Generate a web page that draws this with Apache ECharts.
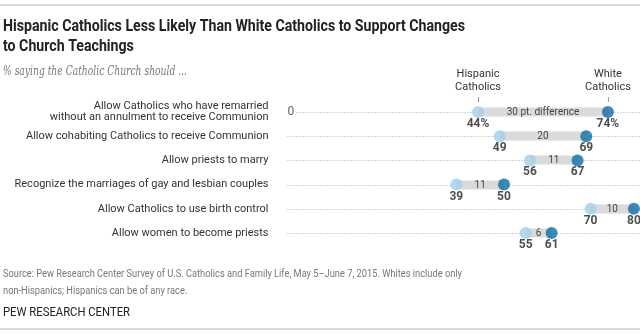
<!DOCTYPE html>
<html><head><meta charset="utf-8">
<script src="https://cdn.jsdelivr.net/npm/echarts@6/dist/echarts.min.js"></script>
<style>html,body{margin:0;padding:0;background:#fff}#c{width:640px;height:334px}</style>
</head><body><div id="c"></div>
<script>
const categories = [
  'Allow Catholics who have remarried\nwithout an annulment to receive Communion',
  'Allow cohabiting Catholics to receive Communion',
  'Allow priests to marry',
  'Recognize the marriages of gay and lesbian couples',
  'Allow Catholics to use birth control',
  'Allow women to become priests'
];
const hispanic = [44, 49, 56, 39, 70, 55];
const white = [74, 69, 67, 50, 80, 61];
const hispanicLabels = ['44%', '49', '56', '39', '70', '55'];
const whiteLabels = ['74%', '69', '67', '50', '80', '61'];
const diffLabels = ['30 pt. difference', '20', '11', '11', '10', '6'];
const seriesNames = ['Hispanic\nCatholics', 'White\nCatholics'];

const cv = document.createElement('canvas').getContext('2d');
function fit(text, font, w) { cv.font = font; return w / cv.measureText(text).width; }

const FONT = 'Roboto';
const titleFont = 'bold 17px ' + FONT;
const t1 = 'Hispanic Catholics Less Likely Than White Catholics to Support Changes';
const titleScale = fit(t1, titleFont, 462);
const subFont = 'italic 13px "DejaVu Serif"';
const sub = '% saying the Catholic Church should ...';
const subScale = fit(sub, subFont, 184);
const srcFont = '11px ' + FONT;
const s1 = 'Source: Pew Research Center Survey of U.S. Catholics and Family Life, May 5\u2013June 7, 2015. Whites include only';
const srcScale = fit(s1, srcFont, 459);
const pewFont = '12px ' + FONT;
const pew = 'PEW RESEARCH CENTER';
const pewScale = fit(pew, pewFont, 127);

const chart = echarts.init(document.getElementById('c'), null, {renderer: 'canvas'});
chart.setOption({
  animation: false,
  grid: {left: 287.5, right: 6.1, top: 100, height: 145},
  xAxis: {type: 'value', min: 0, max: 80, show: false},
  yAxis: {
    type: 'category', inverse: true, data: categories,
    axisLine: {show: false}, axisTick: {show: false}, splitLine: {show: false},
    axisLabel: {margin: 19, fontSize: 11, lineHeight: 11, color: '#333', fontFamily: FONT}
  },
  graphic: [
    {type: 'line', shape: {x1: 0, y1: 5, x2: 640, y2: 5}, style: {stroke: '#ccc', lineWidth: 1.5}},
    {type: 'line', shape: {x1: 0, y1: 329, x2: 640, y2: 329}, style: {stroke: '#ccc', lineWidth: 1.5}},
    {type: 'text', x: 3, y: 27, scaleX: titleScale, style: {text: t1, font: titleFont, fill: '#222', verticalAlign: 'middle'}},
    {type: 'text', x: 3, y: 47, scaleX: titleScale, style: {text: 'to Church Teachings', font: titleFont, fill: '#222', verticalAlign: 'middle'}},
    {type: 'text', x: 3, y: 72, scaleX: subScale, style: {text: sub, font: subFont, fill: '#777', verticalAlign: 'middle'}},
    {type: 'text', x: 3, y: 274, scaleX: srcScale, style: {text: s1, font: srcFont, fill: '#777', verticalAlign: 'middle'}},
    {type: 'text', x: 3, y: 291, scaleX: srcScale, style: {text: 'non-Hispanics; Hispanics can be of any race.', font: srcFont, fill: '#777', verticalAlign: 'middle'}},
    {type: 'text', x: 3, y: 313, scaleX: pewScale, style: {text: pew, font: pewFont, fill: '#222', verticalAlign: 'middle'}}
  ],
  series: [
    {
      type: 'custom',
      data: categories.map((c, i) => [i, hispanic[i], white[i]]),
      encode: {x: [1, 2], y: 0},
      z: 1,
      renderItem: function (params, api) {
        const i = api.value(0);
        const p1 = api.coord([api.value(1), i]);
        const p2 = api.coord([api.value(2), i]);
        const p0 = api.coord([0, i]);
        const cs = params.coordSys;
        const y = Math.round(p1[1]);
        const ch = [];
        ch.push({type: 'line', shape: {x1: p0[0] + (i === 0 ? 9 : 0), y1: y + 0.5, x2: cs.x + cs.width + 8, y2: y + 0.5},
          style: {stroke: '#aaa', lineWidth: 1, lineDash: [1, 2]}});
        ch.push({type: 'rect', shape: {x: p1[0], y: y - 4.5, width: p2[0] - p1[0], height: 9}, style: {fill: '#dadada'}});
        ch.push({type: 'text', style: {text: diffLabels[i], x: (p1[0] + p2[0]) / 2, y: y + 0.5, align: 'center', verticalAlign: 'middle',
          font: '10px ' + FONT, fill: '#444'}});
        if (i === 0) {
          ch.push({type: 'text', style: {text: '0', x: p0[0], y: y, align: 'left', verticalAlign: 'middle', font: '12px ' + FONT, fill: '#666'}});
          [p1, p2].forEach(function (p, k) {
            ch.push({type: 'text', style: {text: seriesNames[k], x: p[0], y: y - 31, align: 'center', verticalAlign: 'middle',
              font: '11px ' + FONT, fill: '#333', lineHeight: 13}});
            ch.push({type: 'line', shape: {x1: p[0] + 0.5, y1: y - 15, x2: p[0] + 0.5, y2: y - 10}, style: {stroke: '#999', lineWidth: 1}});
          });
        }
        return {type: 'group', children: ch};
      }
    },
    {
      type: 'scatter', name: 'Hispanic Catholics', z: 3,
      data: hispanic.map((v, i) => [v, i]),
      symbolSize: 12,
      itemStyle: {color: '#a3cfeb'},
      label: {show: true, position: 'bottom', distance: 0, formatter: p => hispanicLabels[p.dataIndex],
        fontSize: 12, fontWeight: 'bold', color: '#222', fontFamily: FONT}
    },
    {
      type: 'scatter', name: 'White Catholics', z: 3,
      data: white.map((v, i) => [v, i]),
      symbolSize: 12,
      itemStyle: {color: '#0b6da6'},
      label: {show: true, position: 'bottom', distance: 0, formatter: p => whiteLabels[p.dataIndex],
        fontSize: 12, fontWeight: 'bold', color: '#222', fontFamily: FONT}
    }
  ]
});
</script></body></html>
